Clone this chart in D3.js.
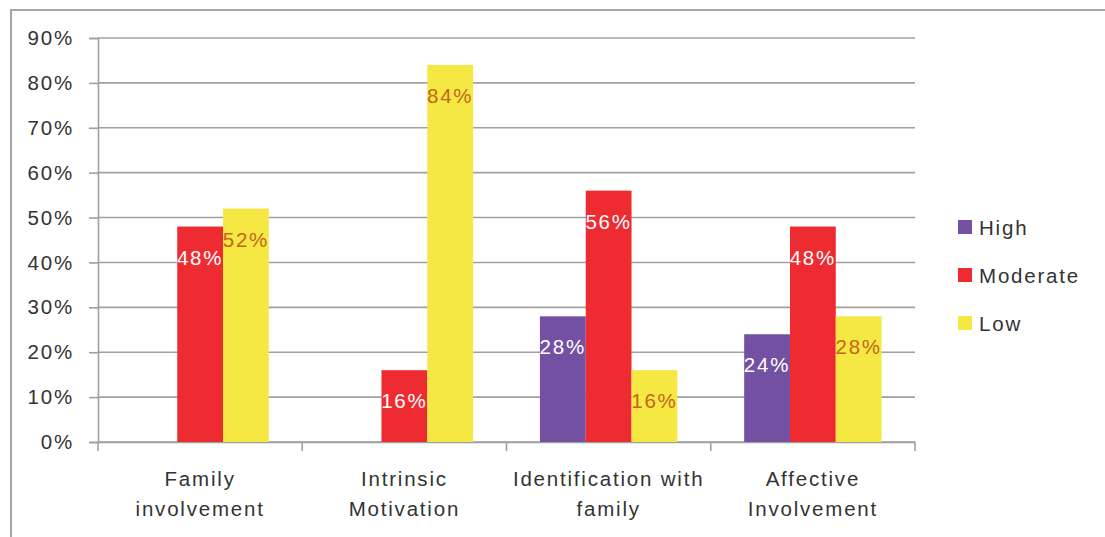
<!DOCTYPE html>
<html>
<head>
<meta charset="utf-8">
<script src="https://cdn.jsdelivr.net/npm/d3@7"></script>
<style>
  html, body { margin: 0; padding: 0; background: #fff; }
  svg { display: block; }
  text { font-family: "Liberation Sans", Arial, sans-serif; fill: #333; }
</style>
</head>
<body>
<svg id="chart" width="1105" height="537"></svg>
<script>
// Dimension categories and rating levels
const categories = [["Family", "involvement"], ["Intrinsic", "Motivation"], ["Identification with", "family"], ["Affective", "Involvement"]];
const categoryKeys = ["Family involvement", "Intrinsic Motivation", "Identification with family", "Affective Involvement"];
const levels = ["High", "Moderate", "Low"];

// Percentages per level, one entry per category (null = no bar)
const high = [null, null, 28, 24];
const moderate = [48, 16, 56, 48];
const low = [52, 84, 16, 28];

const yTicks = [0, 10, 20, 30, 40, 50, 60, 70, 80, 90];

const colors = { High: "#7350a2", Moderate: "#ee2b30", Low: "#f5e843" };
const labelColors = { High: "#ffffff", Moderate: "#ffffff", Low: "#c4661c" };

const FS = 20.5, LS = 1.8;

const svg = d3.select("#chart");

// outer frame
svg.append("rect")
  .attr("x", 11).attr("y", 10)
  .attr("width", 1200).attr("height", 600)
  .attr("fill", "none").attr("stroke", "#a6a6a6").attr("stroke-width", 2);

const plot = { left: 98, right: 915, top: 38, bottom: 442 };

const x = d3.scaleBand().domain(categoryKeys).range([plot.left, plot.right]).paddingInner(0).paddingOuter(0);
const xInner = d3.scaleBand().domain(levels).range([0, x.bandwidth()]).paddingInner(0).paddingOuter(0.73);
const y = d3.scaleLinear().domain([0, 90]).range([plot.bottom, plot.top]);

// gridlines
svg.append("g").selectAll("line").data(yTicks).join("line")
  .attr("x1", plot.left).attr("x2", plot.right)
  .attr("y1", d => y(d)).attr("y2", d => y(d))
  .attr("stroke", "#a0a0a0").attr("stroke-width", 1.6);

// y axis
const yAxis = svg.append("g").attr("transform", `translate(${plot.left},0)`)
  .call(d3.axisLeft(y).tickValues(yTicks).tickFormat(d => d + "%").tickSize(9).tickPadding(15));
yAxis.select(".domain").attr("stroke", "#a0a0a0").attr("stroke-width", 1.6);
yAxis.selectAll(".tick line").attr("stroke", "#a0a0a0").attr("stroke-width", 1.6);
yAxis.selectAll(".tick text").attr("font-size", FS).attr("fill", "#333")
  .attr("font-family", "Liberation Sans, Arial, sans-serif").attr("letter-spacing", LS);

// x axis
const xAxis = svg.append("g").attr("transform", `translate(0,${plot.bottom})`)
  .call(d3.axisBottom(x).tickSize(0).tickFormat(""));
xAxis.select(".domain").attr("stroke", "#a0a0a0").attr("stroke-width", 1.6);
xAxis.selectAll(".tick").remove();
const sepPositions = categoryKeys.map(k => x(k)).concat([x(categoryKeys[categoryKeys.length - 1]) + x.bandwidth()]);
xAxis.selectAll("line.sep").data(sepPositions).join("line")
  .attr("class", "sep")
  .attr("x1", d => d).attr("x2", d => d).attr("y1", 0).attr("y2", 9)
  .attr("stroke", "#a0a0a0").attr("stroke-width", 1.6);

// bars
const series = { High: high, Moderate: moderate, Low: low };
const barData = [];
categoryKeys.forEach((c, i) => {
  levels.forEach(l => {
    const v = series[l][i];
    if (v != null) barData.push({ cat: c, level: l, value: v });
  });
});

const bars = svg.append("g");
bars.selectAll("rect").data(barData).join("rect")
  .attr("x", d => x(d.cat) + xInner(d.level))
  .attr("y", d => y(d.value))
  .attr("width", xInner.bandwidth())
  .attr("height", d => y(0) - y(d.value))
  .attr("fill", d => colors[d.level]);

// value labels
bars.selectAll("text").data(barData).join("text")
  .attr("x", d => x(d.cat) + xInner(d.level) + xInner.bandwidth() / 2)
  .attr("y", d => y(d.value) + 38)
  .attr("text-anchor", "middle")
  .attr("font-size", FS)
  .attr("letter-spacing", LS)
  .style("fill", d => labelColors[d.level])
  .text(d => d.value + "%");

// category labels
const catLabels = svg.append("g");
categoryKeys.forEach((c, i) => {
  const t = catLabels.append("text")
    .attr("x", x(c) + x.bandwidth() / 2)
    .attr("y", 486)
    .attr("text-anchor", "middle")
    .attr("font-size", FS)
    .attr("letter-spacing", LS);
  categories[i].forEach((line, j) => {
    t.append("tspan").attr("x", x(c) + x.bandwidth() / 2).attr("dy", j === 0 ? 0 : 30).text(line);
  });
});

// legend
const legend = svg.append("g").attr("transform", "translate(958,220)");
const li = legend.selectAll("g").data(levels).join("g")
  .attr("transform", (d, i) => `translate(0,${i * 48})`);
li.append("rect").attr("width", 14).attr("height", 14).attr("fill", d => colors[d]);
li.append("text").attr("x", 21).attr("y", 15).attr("font-size", FS).attr("letter-spacing", LS).text(d => d);
</script>
</body>
</html>
